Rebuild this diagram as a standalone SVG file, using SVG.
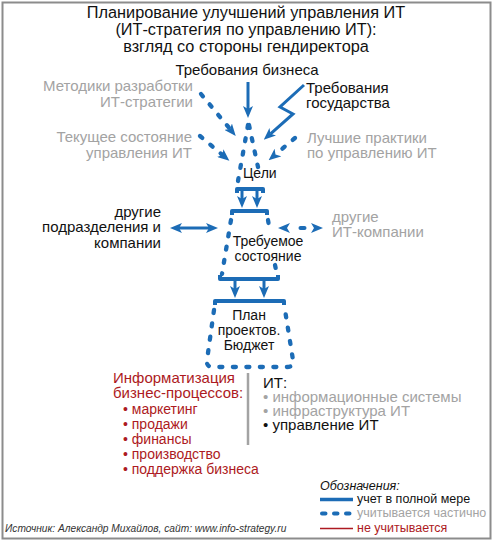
<svg xmlns="http://www.w3.org/2000/svg" width="493" height="541" viewBox="0 0 493 541">
<style>
text{font-family:"Liberation Sans",Arial,sans-serif;font-size:15px;fill:#111}
.t{font-size:16.3px;text-anchor:middle}
.g{fill:#a3a3a3}
.r{fill:#ad1a22}
.e{text-anchor:end}
.m{text-anchor:middle}
.in{font-size:14px}
.li{font-size:14px}
.lg{font-size:12.5px}
.src{font-size:10.2px;font-style:italic;fill:#333}
.sol{fill:none;stroke:#1c6cb6;stroke-width:3}
.bar{fill:none;stroke:#1c6cb6;stroke-width:4;stroke-linejoin:round}
.dsh{fill:none;stroke:#1c6cb6;stroke-width:4.3;stroke-linecap:round;stroke-dasharray:3 10.5}
</style>
<defs>
<marker id="ah" markerUnits="userSpaceOnUse" viewBox="0 0 12 10" refX="3" refY="5" markerWidth="12" markerHeight="10" orient="auto-start-reverse">
<path d="M0,0 L12,5 L0,10 L3,5 z" fill="#1c6cb6"/>
</marker>
</defs>
<rect x="2.5" y="2.5" width="488" height="536" fill="#fff" stroke="#8c8c8c" stroke-width="2"/>

<g id="title">
<text class="t" x="246" y="18">Планирование улучшений управления ИТ</text>
<text class="t" x="246" y="35">(ИТ-стратегия по управлению ИТ):</text>
<text class="t" x="246" y="52">взгляд со стороны гендиректора</text>
</g>

<g id="biz"><text class="m" x="247" y="75">Требования бизнеса</text></g>
<g id="metod"><text class="e g" x="193" y="91">Методики разработки</text><text class="e g" x="193" y="107">ИТ-стратегии</text></g>
<g id="gos"><text x="306" y="93">Требования</text><text x="306" y="108">государства</text></g>
<g id="tek"><text class="e g" x="192" y="142">Текущее состояние</text><text class="e g" x="192" y="158">управления ИТ</text></g>
<g id="best"><text class="g" x="307" y="143">Лучшие практики</text><text class="g" x="307" y="158">по управлению ИТ</text></g>
<g id="other"><text class="e" x="161" y="217">другие</text><text class="e" x="161" y="232">подразделения и</text><text class="e" x="161" y="248">компании</text></g>
<g id="otherit"><text class="g" x="332" y="222">другие</text><text class="g" x="332" y="237">ИТ-компании</text></g>

<g id="goals">
<path class="dsh" d="M248,125 L238,181"/>
<path class="dsh" d="M249,125 L258,167"/>
<text class="in" x="243" y="178">Цели</text>
</g>

<g id="target">
<path class="bar" d="M232,215 L232,211 L267,211 L267,215"/>
<path class="dsh" d="M231,220 L222,274"/>
<path class="dsh" d="M268,220 L270,232"/>
<path class="dsh" d="M275,265 L277,274"/>
<path class="bar" d="M220,275 L220,279 L278,279 L278,275"/>
<text class="in m" x="268" y="246">Требуемое</text>
<text class="in m" x="268" y="261">состояние</text>
</g>

<g id="plan">
<path class="bar" d="M215,305 L215,301 L284,301 L284,305"/>
<path class="dsh" d="M214,310 L207,360 Q206,367 213,367 L287,367 Q294,367 293,360 L285,310"/>
<text class="in m" x="249" y="320">План</text>
<text class="in m" x="249" y="335">проектов.</text>
<text class="in m" x="249" y="350">Бюджет</text>
</g>

<g id="connectors">
<path class="sol" d="M248,82 L248,109" marker-end="url(#ah)"/>
<path class="sol" d="M304,85 L280,107 L293,114 L270.5,133.8" marker-end="url(#ah)"/>
<path class="dsh" d="M201,94 L230,129" marker-end="url(#ah)"/>
<path class="dsh" d="M200,136 L222.5,155" marker-end="url(#ah)"/>
<path class="dsh" d="M295,138 L275.5,154.5" marker-end="url(#ah)"/>
<path class="bar" d="M237,193 L237,189 L263,189 L263,193"/>
<path class="sol" d="M242,189 L242,199" marker-end="url(#ah)"/>
<path class="sol" d="M257,189 L257,199" marker-end="url(#ah)"/>
<path class="sol" d="M235,279 L235,289" marker-end="url(#ah)"/>
<path class="sol" d="M264,279 L264,289" marker-end="url(#ah)"/>
<path class="sol" d="M179,228 L209,228" marker-start="url(#ah)" marker-end="url(#ah)"/>
<path d="M287,228 L314,228" fill="none" stroke="#1c6cb6" stroke-width="4" stroke-linecap="round" stroke-dasharray="4 100" stroke-dashoffset="-13.5" marker-start="url(#ah)" marker-end="url(#ah)"/>
</g>

<g id="bp">
<text class="r" x="113" y="383">Информатизация</text>
<text class="r" x="113" y="398">бизнес-процессов:</text>
<text class="r li" x="123" y="414">• маркетинг</text>
<text class="r li" x="123" y="429">• продажи</text>
<text class="r li" x="123" y="444">• финансы</text>
<text class="r li" x="123" y="459">• производство</text>
<text class="r li" x="123" y="474">• поддержка бизнеса</text>
</g>
<line x1="248" y1="373" x2="248" y2="445" stroke="#a3a3a3" stroke-width="2.5"/>
<g id="it">
<text x="263" y="388">ИТ:</text>
<text class="g" x="263" y="402">• информационные системы</text>
<text class="g" x="263" y="416">• инфраструктура ИТ</text>
<text x="263" y="430">• управление ИТ</text>
</g>

<g id="legend">
<text class="lg" x="320" y="490" font-style="italic">Обозначения:</text>
<line x1="320" y1="499.5" x2="353" y2="499.5" stroke="#1c6cb6" stroke-width="3.5"/>
<text class="lg" x="357" y="503">учет в полной мере</text>
<line x1="322" y1="513.5" x2="353" y2="513.5" stroke="#1c6cb6" stroke-width="4" stroke-linecap="round" stroke-dasharray="3.5 8.5"/>
<text class="lg g" x="357" y="517">учитывается частично</text>
<line x1="320" y1="528.5" x2="353" y2="528.5" stroke="#ad1a22" stroke-width="1.5"/>
<text class="lg r" x="357" y="532">не учитывается</text>
</g>
<g id="source"><text class="src" x="5" y="532">Источник: Александр Михайлов, сайт: www.info-strategy.ru</text></g>
</svg>
